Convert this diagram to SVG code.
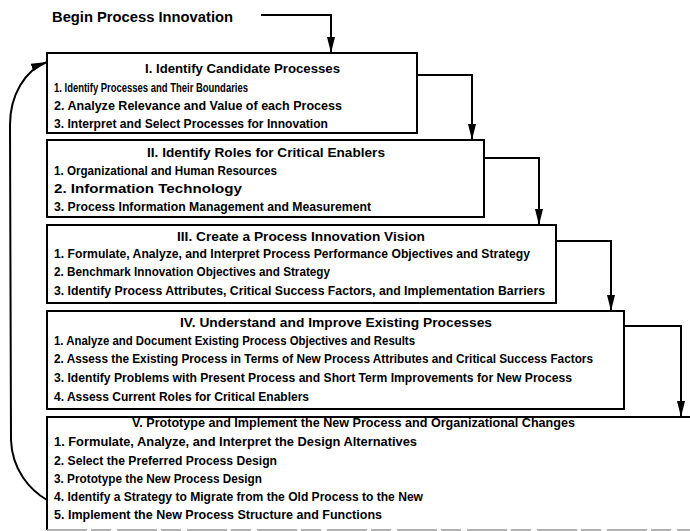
<svg xmlns="http://www.w3.org/2000/svg" width="690" height="531" viewBox="0 0 690 531">
<style>
text{font-family:"Liberation Sans",Arial,sans-serif;font-weight:bold;fill:#000}
.t{font-size:13.5px}
.i{font-size:12.5px}
.b{font-size:14px}
.box{fill:#fff;stroke:#000;stroke-width:2}
.con{fill:none;stroke:#000;stroke-width:2}
</style>
<defs>
<marker id="ah" viewBox="0 0 16 8" refX="16" refY="4" markerWidth="16" markerHeight="8" markerUnits="userSpaceOnUse" orient="auto">
<path d="M0,0 L16,4 L0,8 Z" fill="#000"/>
</marker>
</defs>
<rect width="690" height="531" fill="#fff"/>
<g id="start">
<text class="b" x="52" y="22" textLength="181" lengthAdjust="spacingAndGlyphs">Begin Process Innovation</text>
</g>
<g id="box1">
<rect class="box" x="47" y="53" width="370" height="80"/>
<text class="t" x="145" y="73" textLength="195" lengthAdjust="spacingAndGlyphs">I. Identify Candidate Processes</text>
<text class="i" x="54" y="92" textLength="194" lengthAdjust="spacingAndGlyphs">1. Identify Processes and Their Boundaries</text>
<text class="i" x="54" y="110" textLength="288" lengthAdjust="spacingAndGlyphs">2. Analyze  Relevance and Value of each Process</text>
<text class="i" x="54" y="128" textLength="274" lengthAdjust="spacingAndGlyphs">3. Interpret and Select Processes for Innovation</text>
</g>
<g id="box2">
<rect class="box" x="47" y="140" width="437" height="77"/>
<text class="t" x="147" y="157" textLength="238" lengthAdjust="spacingAndGlyphs">II. Identify Roles for Critical Enablers</text>
<text class="i" x="54" y="175" textLength="223" lengthAdjust="spacingAndGlyphs">1. Organizational and Human Resources</text>
<text class="i" x="54" y="193" textLength="188" lengthAdjust="spacingAndGlyphs">2. Information Technology</text>
<text class="i" x="54" y="211" textLength="317" lengthAdjust="spacingAndGlyphs">3. Process Information Management and Measurement</text>
</g>
<g id="box3">
<rect class="box" x="47" y="225" width="509" height="78"/>
<text class="t" x="177" y="241" textLength="248" lengthAdjust="spacingAndGlyphs">III. Create a Process Innovation Vision</text>
<text class="i" x="54" y="258" textLength="476" lengthAdjust="spacingAndGlyphs">1. Formulate, Analyze, and Interpret Process Performance Objectives and Strategy</text>
<text class="i" x="54" y="276" textLength="276" lengthAdjust="spacingAndGlyphs">2. Benchmark Innovation Objectives and Strategy</text>
<text class="i" x="54" y="295" textLength="491" lengthAdjust="spacingAndGlyphs">3. Identify Process Attributes, Critical Success Factors, and Implementation Barriers</text>
</g>
<g id="box4">
<rect class="box" x="47" y="311" width="577" height="98"/>
<text class="t" x="180" y="327" textLength="312" lengthAdjust="spacingAndGlyphs">IV. Understand and Improve Existing Processes</text>
<text class="i" x="54" y="345" textLength="361" lengthAdjust="spacingAndGlyphs">1. Analyze and Document Existing Process  Objectives and Results</text>
<text class="i" x="54" y="363" textLength="539" lengthAdjust="spacingAndGlyphs">2. Assess the Existing Process in Terms of New Process Attributes and Critical Success Factors</text>
<text class="i" x="54" y="382" textLength="518" lengthAdjust="spacingAndGlyphs">3. Identify Problems with Present Process and Short Term Improvements for New Process</text>
<text class="i" x="54" y="401" textLength="255" lengthAdjust="spacingAndGlyphs">4. Assess Current Roles for Critical Enablers</text>
</g>
<g id="box5">
<path d="M690,417 L47,417 L47,530" class="con"/>
<line x1="47" y1="530" x2="690" y2="530" stroke="#999" stroke-width="1.5" stroke-dasharray="40,4,20,6"/>
<text class="t" x="132" y="427" textLength="443" lengthAdjust="spacingAndGlyphs">V. Prototype and Implement the New Process and Organizational Changes</text>
<text class="i" x="54" y="446" textLength="363" lengthAdjust="spacingAndGlyphs">1. Formulate, Analyze, and Interpret the Design Alternatives</text>
<text class="i" x="54" y="465" textLength="223" lengthAdjust="spacingAndGlyphs">2. Select the Preferred Process Design</text>
<text class="i" x="54" y="483" textLength="208" lengthAdjust="spacingAndGlyphs">3. Prototype the New Process Design</text>
<text class="i" x="54" y="501" textLength="369" lengthAdjust="spacingAndGlyphs">4. Identify a Strategy to Migrate from the Old Process to the New</text>
<text class="i" x="54" y="519" textLength="328" lengthAdjust="spacingAndGlyphs">5. Implement the New Process Structure and Functions</text>
</g>
<g id="connectors">
<path class="con" d="M261,15 L331,15 L331,53" marker-end="url(#ah)"/>
<path class="con" d="M417,75 L472,75 L472,140" marker-end="url(#ah)"/>
<path class="con" d="M484,158 L539,158 L539,225" marker-end="url(#ah)"/>
<path class="con" d="M556,241 L611,241 L611,311" marker-end="url(#ah)"/>
<path class="con" d="M624,326 L681,326 L681,417" marker-end="url(#ah)"/>
<path class="con" d="M47,500 C30,490 12,470 11,440 L10,125 C10,95 25,70 47,62" marker-end="url(#ah)"/>
</g>
</svg>
